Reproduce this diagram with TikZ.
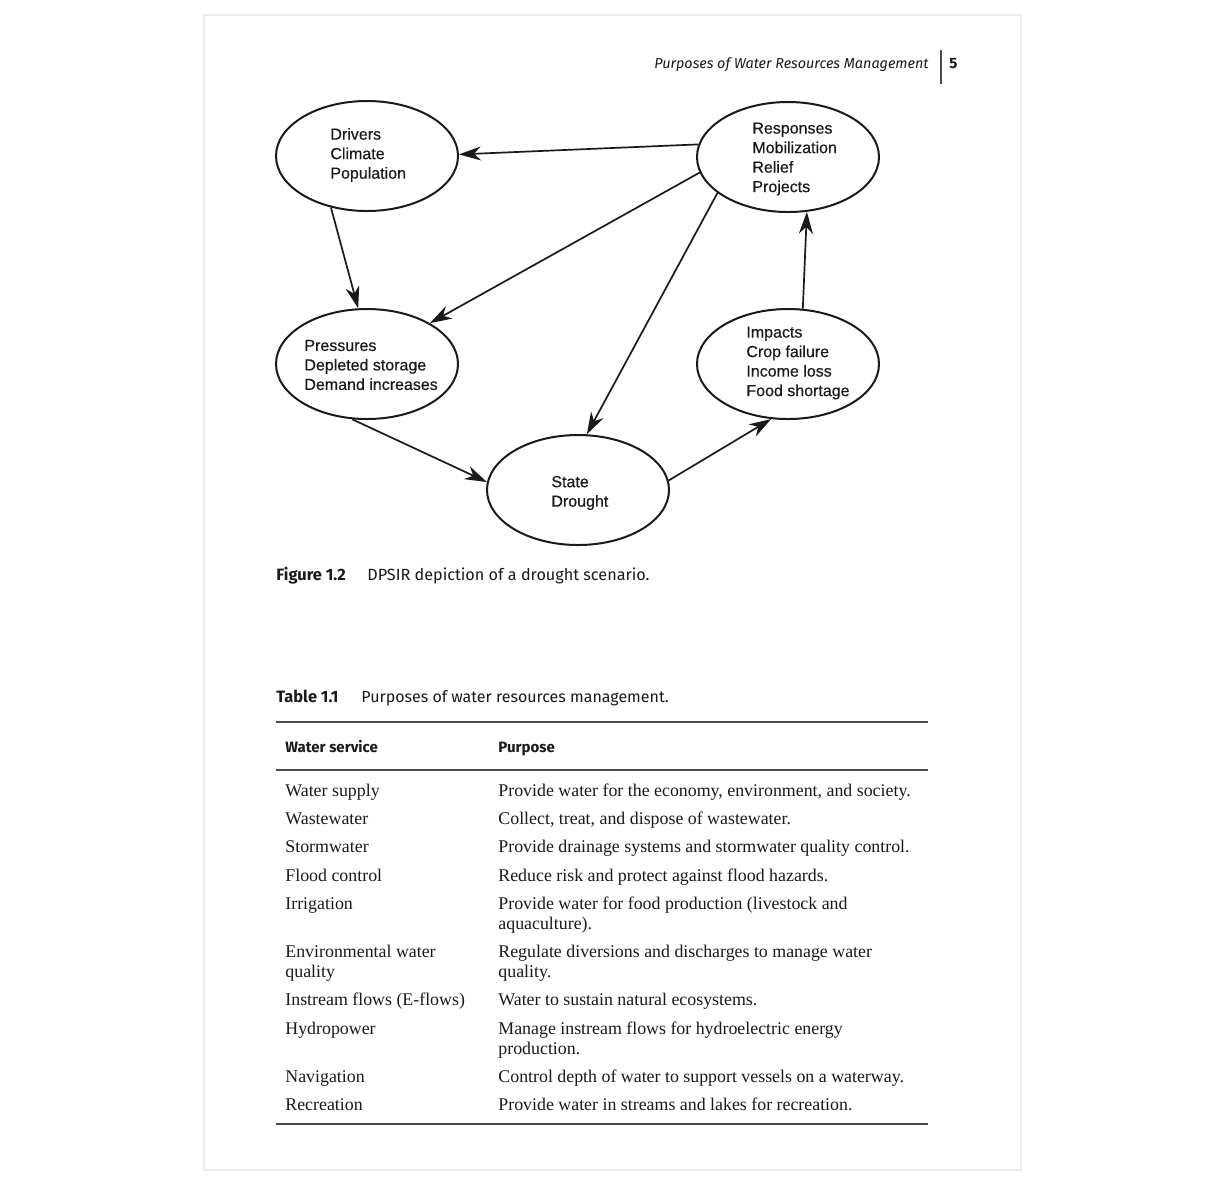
\documentclass[tikz,border=0pt]{standalone}
\usepackage{fontspec}
\setmainfont{Liberation Serif}
\newfontfamily\diagf[FakeBold=0.4]{Liberation Sans}
\newfontfamily\capf{Fira Sans}
\usetikzlibrary{arrows.meta,shapes.geometric}
\definecolor{pagegray}{HTML}{EBEBEB}
\definecolor{ink}{HTML}{1A1A1A}
\definecolor{rulegray}{HTML}{4A4A4A}
\tikzset{
  ell/.style={draw=ink, ellipse, line width=1pt, minimum width=91pt, minimum height=55pt, inner sep=0pt},
  lbl/.style={anchor=west, align=left, inner sep=0pt, text=ink, font=\diagf\fontsize{8}{9.75}\selectfont},
  arr/.style={draw=ink, line width=0.85pt, -{Stealth[length=11pt,width=7pt,inset=3.5pt]}},
  cell/.style={anchor=base west, inner sep=0pt, text=ink, font=\fontsize{8.93}{10}\selectfont},
  hcell/.style={anchor=base west, inner sep=0pt, text=ink, font=\capf\bfseries\fontsize{7.5}{9}\selectfont},
  capt/.style={anchor=base west, inner sep=0pt, text=ink, font=\capf\fontsize{8.1}{10}\selectfont},
  trule/.style={draw=rulegray, line width=0.75pt},
}
\begin{document}
\begin{tikzpicture}[x=0.5pt,y=-0.5pt]
\useasboundingbox (0,0) rectangle (1225,1180);
\fill[white] (0,0) rectangle (1225,1180);
\draw[pagegray, line width=1pt] (204,15) rectangle (1021,1170);

% running head
\node[anchor=base east, inner sep=0pt, text=ink, font=\capf\itshape\fontsize{7.2}{9}\selectfont] (head) at (929,68) {Purposes of Water Resources Management};
\draw[rulegray, line width=1pt] (941,50) -- (941,84);
\node[anchor=base west, inner sep=0pt, text=ink, font=\capf\bfseries\fontsize{7.5}{9}\selectfont] (pnum) at (949,68) {5};

% ellipses
\node[ell] (drv) at (367,156) {};
\node[ell] (rsp) at (788,157) {};
\node[ell] (prs) at (367,364) {};
\node[ell] (imp) at (788,364) {};
\node[ell] (sta) at (578,490) {};

% labels
\node[lbl] (drvt) at (330,155) {Drivers\\Climate\\Population};
\node[lbl] (rspt) at (752,159) {Responses\\Mobilization\\Relief\\Projects};
\node[lbl] (prst) at (304,365) {Pressures\\Depleted storage\\Demand increases};
\node[lbl] (impt) at (746,363) {Impacts\\Crop failure\\Income loss\\Food shortage};
\node[lbl] (stat) at (551,493) {State\\Drought};

% connectors
\draw[arr] (rsp.172) -- (drv.1);
\draw[arr] (drv.235) -- (prs.99);
\draw[arr] (rsp.190) -- (prs.33);
\draw[arr] (rsp.207) -- (sta.81);
\draw[arr] (prs.255) -- (sta.175);
\draw[arr] (sta.6) -- (imp.253);
\draw[arr] (imp.75) -- (rsp.289);

% figure caption
\node[capt, font=\capf\bfseries\fontsize{8.2}{10}\selectfont] (fig) at (276,580) {Figure 1.2};
\node[capt] (figt) at (367,580) {DPSIR depiction of a drought scenario.};

% table caption
\node[capt, font=\capf\bfseries\fontsize{8.2}{10}\selectfont] (tab) at (276,702) {Table 1.1};
\node[capt, font=\capf\fontsize{8.0}{10}\selectfont] (tabt) at (361,702) {Purposes of water resources management.};

% table
\draw[trule] (276,722) -- (928,722);
\draw[trule, line width=1.2pt] (276,770) -- (928,770);
\draw[trule] (276,1124) -- (928,1124);
\node[hcell] (h1) at (285,752) {Water service};
\node[hcell] (h2) at (498,752) {Purpose};

\node[cell] (a1) at (285,796) {Water supply};
\node[cell] (b1) at (498,796) {Provide water for the economy, environment, and society.};
\node[cell] (a2) at (285,824) {Wastewater};
\node[cell] (b2) at (498,824) {Collect, treat, and dispose of wastewater.};
\node[cell] (a3) at (285,852) {Stormwater};
\node[cell] (b3) at (498,852) {Provide drainage systems and stormwater quality control.};
\node[cell] (a4) at (285,881) {Flood control};
\node[cell] (b4) at (498,881) {Reduce risk and protect against flood hazards.};
\node[cell] (a5) at (285,909) {Irrigation};
\node[cell] (b5) at (498,909) {Provide water for food production (livestock and};
\node[cell] (b5b) at (498,929) {aquaculture).};
\node[cell] (a6) at (285,957) {Environmental water};
\node[cell] (a6b) at (285,977) {quality};
\node[cell] (b6) at (498,957) {Regulate diversions and discharges to manage water};
\node[cell] (b6b) at (498,977) {quality.};
\node[cell] (a7) at (285,1005) {Instream flows (E-flows)};
\node[cell] (b7) at (498,1005) {Water to sustain natural ecosystems.};
\node[cell] (a8) at (285,1034) {Hydropower};
\node[cell] (b8) at (498,1034) {Manage instream flows for hydroelectric energy};
\node[cell] (b8b) at (498,1054) {production.};
\node[cell] (a9) at (285,1082) {Navigation};
\node[cell] (b9) at (498,1082) {Control depth of water to support vessels on a waterway.};
\node[cell] (a10) at (285,1110) {Recreation};
\node[cell] (b10) at (498,1110) {Provide water in streams and lakes for recreation.};
\end{tikzpicture}
\end{document}
